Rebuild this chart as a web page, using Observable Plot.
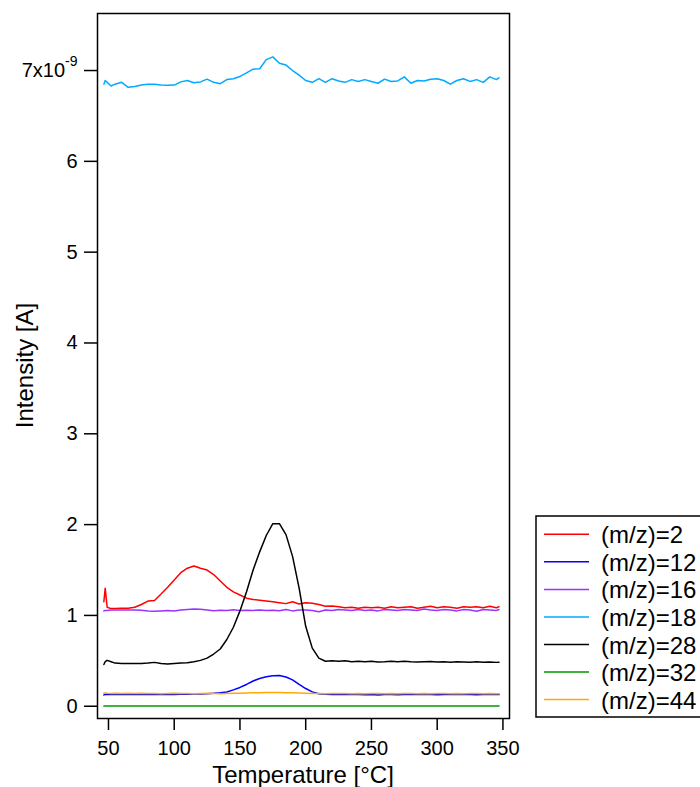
<!DOCTYPE html>
<html><head><meta charset="utf-8">
<script src="https://cdn.jsdelivr.net/npm/d3@7"></script>
<script src="https://cdn.jsdelivr.net/npm/@observablehq/plot@0.6"></script>
<style>body{margin:0;background:#fff;}</style>
</head><body><div id="chart"></div>
<script>
// Temperature in °C
const temperature = [46.5, 47.5, 49, 52,
  55, 60, 65, 70, 75, 80, 85, 90, 95, 100,
  105, 110, 115, 120, 125, 130, 135, 140, 145, 150,
  155, 160, 165, 170, 175, 180, 185, 190, 195, 200,
  205, 210, 215, 220, 225, 230, 235, 240, 245, 250,
  255, 260, 265, 270, 275, 280, 285, 290, 295, 300,
  305, 310, 315, 320, 325, 330, 335, 340, 345, 347];

// Intensities in units of 1e-9 A
const mz2 = [1.15, 1.30, 1.09, 1.075,
  1.075, 1.078, 1.08, 1.09, 1.12, 1.158, 1.165, 1.235, 1.31, 1.39,
  1.47, 1.52, 1.545, 1.52, 1.50, 1.45, 1.38, 1.31, 1.26, 1.225,
  1.19, 1.175, 1.168, 1.16, 1.15, 1.14, 1.13, 1.15, 1.125, 1.14,
  1.135, 1.12, 1.10, 1.105, 1.095, 1.085, 1.09, 1.08, 1.09, 1.085,
  1.09, 1.08, 1.095, 1.085, 1.09, 1.095, 1.08, 1.09, 1.10, 1.085,
  1.095, 1.09, 1.08, 1.095, 1.09, 1.095, 1.085, 1.10, 1.085, 1.095];

const mz12 = [0.125, 0.13, 0.13, 0.13,
  0.128, 0.13, 0.128, 0.13, 0.13, 0.128, 0.13, 0.13, 0.132, 0.13,
  0.132, 0.133, 0.135, 0.136, 0.138, 0.142, 0.148, 0.157, 0.18, 0.207,
  0.24, 0.278, 0.305, 0.325, 0.336, 0.338, 0.322, 0.29, 0.24, 0.195,
  0.158, 0.138, 0.132, 0.13, 0.128, 0.132, 0.128, 0.13, 0.127, 0.13,
  0.125, 0.128, 0.13, 0.127, 0.13, 0.128, 0.132, 0.128, 0.13, 0.127,
  0.13, 0.128, 0.131, 0.128, 0.13, 0.127, 0.13, 0.128, 0.13, 0.128];

const mz16 = [1.05, 1.055, 1.055, 1.06,
  1.06, 1.06, 1.06, 1.06, 1.058, 1.05, 1.045, 1.05, 1.055, 1.05,
  1.06, 1.065, 1.07, 1.068, 1.06, 1.052, 1.058, 1.055, 1.062, 1.055,
  1.058, 1.055, 1.06, 1.055, 1.058, 1.052, 1.065, 1.05, 1.06, 1.06,
  1.055, 1.04, 1.06, 1.055, 1.065, 1.06, 1.055, 1.065, 1.055, 1.06,
  1.05, 1.065, 1.06, 1.055, 1.065, 1.06, 1.055, 1.07, 1.06, 1.055,
  1.065, 1.06, 1.05, 1.065, 1.06, 1.045, 1.065, 1.06, 1.055, 1.065];

const mz18 = [6.85, 6.89, 6.87, 6.83,
  6.85, 6.87, 6.815, 6.825, 6.84, 6.85, 6.85, 6.84, 6.838, 6.84,
  6.875, 6.89, 6.865, 6.875, 6.905, 6.87, 6.855, 6.90, 6.91, 6.935,
  6.975, 7.015, 7.02, 7.12, 7.15, 7.08, 7.06, 7.0, 6.95, 6.89,
  6.87, 6.91, 6.87, 6.91, 6.885, 6.87, 6.90, 6.88, 6.90, 6.88,
  6.86, 6.905, 6.88, 6.885, 6.93, 6.86, 6.89, 6.885, 6.905, 6.91,
  6.89, 6.85, 6.89, 6.91, 6.88, 6.90, 6.87, 6.93, 6.90, 6.92];

const mz28 = [0.46, 0.49, 0.505, 0.49,
  0.475, 0.47, 0.47, 0.47, 0.47, 0.475, 0.483, 0.47, 0.465, 0.47,
  0.475, 0.478, 0.49, 0.505, 0.53, 0.575, 0.63, 0.735, 0.87, 1.05,
  1.26, 1.50, 1.70, 1.88, 2.01, 2.01, 1.89, 1.65, 1.30, 0.88,
  0.64, 0.53, 0.495, 0.50, 0.495, 0.50, 0.49, 0.495, 0.49, 0.495,
  0.488, 0.49, 0.495, 0.49, 0.495, 0.49, 0.488, 0.49, 0.492, 0.488,
  0.49, 0.485, 0.49, 0.488, 0.485, 0.49, 0.485, 0.487, 0.483, 0.485];

const mz32 = [0.002, 0.002, 0.002, 0.002,
  0.002, 0.002, 0.002, 0.002, 0.002, 0.002, 0.002, 0.002, 0.002, 0.002,
  0.002, 0.002, 0.002, 0.002, 0.002, 0.002, 0.002, 0.002, 0.002, 0.002,
  0.002, 0.002, 0.002, 0.002, 0.002, 0.002, 0.002, 0.002, 0.002, 0.002,
  0.002, 0.002, 0.002, 0.002, 0.002, 0.002, 0.002, 0.002, 0.002, 0.002,
  0.002, 0.002, 0.002, 0.002, 0.002, 0.002, 0.002, 0.002, 0.002, 0.002,
  0.002, 0.002, 0.002, 0.002, 0.002, 0.002, 0.002, 0.002, 0.002, 0.002];

const mz44 = [0.145, 0.145, 0.142, 0.14,
  0.142, 0.14, 0.143, 0.14, 0.142, 0.141, 0.14, 0.138, 0.14, 0.142,
  0.14, 0.14, 0.138, 0.14, 0.142, 0.14, 0.138, 0.14, 0.143, 0.144,
  0.146, 0.148, 0.148, 0.15, 0.151, 0.15, 0.148, 0.148, 0.146, 0.144,
  0.14, 0.14, 0.138, 0.14, 0.139, 0.14, 0.138, 0.14, 0.138, 0.14,
  0.139, 0.138, 0.14, 0.138, 0.14, 0.139, 0.138, 0.14, 0.138, 0.14,
  0.139, 0.138, 0.14, 0.138, 0.139, 0.14, 0.138, 0.139, 0.138, 0.137];

const seriesNames = ["(m/z)=2", "(m/z)=12", "(m/z)=16", "(m/z)=18", "(m/z)=28", "(m/z)=32", "(m/z)=44"];
const seriesValues = [mz2, mz12, mz16, mz18, mz28, mz32, mz44];
const seriesColors = ["#ff0000", "#0000ff", "#9933ff", "#00aaff", "#000000", "#009900", "#ffaa00"];
const xTicks = [50, 100, 150, 200, 250, 300, 350];
const yTicks = [0, 1, 2, 3, 4, 5, 6, 7];
const xLabel = "Temperature [°C]";
const yLabel = "Intensity [A]";

const rows = [];
seriesValues.forEach((vals, i) => vals.forEach((v, j) => rows.push({T: temperature[j], I: v, s: seriesNames[i]})));

const FONT = "'Liberation Sans', Arial, Helvetica, sans-serif";

const plot = Plot.plot({
  width: 700, height: 787,
  marginLeft: 97, marginRight: 191, marginTop: 13, marginBottom: 69,
  style: {fontFamily: FONT, fontSize: "20px", background: "#fff", color: "#000"},
  x: {domain: [41.65, 355.0]},
  y: {domain: [-0.135, 7.628]},
  marks: [
    ...seriesNames.map((name, i) => Plot.line(rows.filter(r => r.s === name), {x: "T", y: "I", stroke: seriesColors[i], strokeWidth: 1.5})),
    Plot.frame({stroke: "#000", strokeWidth: 1.5}),
    Plot.axisX({ticks: xTicks, tickSize: 12, tickPadding: 10, strokeWidth: 1.5, label: null, tickFormat: d => String(d)}),
    Plot.axisY({ticks: yTicks, tickSize: 13, tickPadding: 7, strokeWidth: 1.5, label: null, tickFormat: d => d === 7 ? "7x10-9" : String(d)})
  ]
});
document.getElementById("chart").appendChild(plot);

const svg = d3.select(plot);
// superscript exponent on the top tick label
svg.selectAll("text").each(function() {
  if (this.textContent === "7x10-9") {
    const t = d3.select(this);
    t.text("7x10");
    t.append("tspan").attr("dy", -11).attr("font-size", 14).style("font-size", "14px").text("-9");
  }
});

// axis titles
svg.append("text").attr("x", 303).attr("y", 783).attr("text-anchor", "middle")
  .style("font-size", "24px").style("font-family", FONT).attr("fill", "#000").text(xLabel);
svg.append("text").attr("transform", "translate(33,365.5) rotate(-90)").attr("text-anchor", "middle")
  .style("font-size", "24px").style("font-family", FONT).attr("fill", "#000").text(yLabel);

// legend
const lg = svg.append("g");
lg.append("rect").attr("x", 536).attr("y", 516).attr("width", 200).attr("height", 201)
  .attr("fill", "#fff").attr("stroke", "#000").attr("stroke-width", 1.5);
seriesNames.forEach((name, i) => {
  const y = 534.3 + i * 27.55;
  lg.append("line").attr("x1", 544).attr("x2", 589).attr("y1", y).attr("y2", y)
    .attr("stroke", seriesColors[i]).attr("stroke-width", 1.5);
  lg.append("text").attr("x", 601).attr("y", y + 9).attr("text-anchor", "start")
    .style("font-size", "24px").style("font-family", FONT).attr("fill", "#000").text(name);
});
</script>
</body></html>
